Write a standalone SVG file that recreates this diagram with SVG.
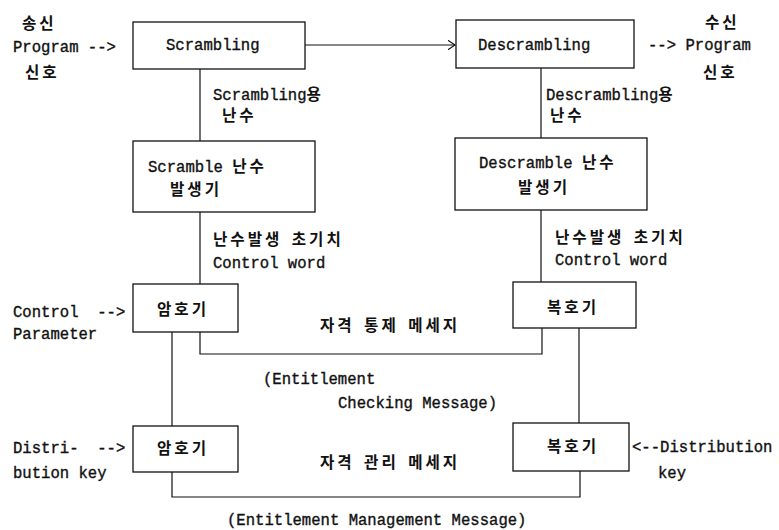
<svg xmlns="http://www.w3.org/2000/svg" width="779" height="530" viewBox="0 0 779 530">
<style>
text{font-family:"Liberation Mono","Noto Sans CJK KR",monospace;font-size:15.6px;fill:#111;stroke:#111;stroke-width:0.35;white-space:pre}
.k{letter-spacing:3px;font-weight:bold;stroke-width:0}
.box{fill:#fff;stroke:#111;stroke-width:1.3}
.ln{fill:none;stroke:#111;stroke-width:1.2}
</style>
<defs>
<marker id="ah" viewBox="0 0 8 10" refX="7.5" refY="5" markerWidth="8" markerHeight="10" markerUnits="userSpaceOnUse" orient="auto">
<path d="M0,0 L7.5,5 L0,10" fill="none" stroke="#111" stroke-width="1.2"/>
</marker>
</defs>
<g id="connectors">
<line class="ln" x1="305" y1="45" x2="455" y2="45" marker-end="url(#ah)"/>
<line class="ln" x1="200" y1="69" x2="200" y2="141"/>
<line class="ln" x1="541" y1="68" x2="541" y2="138"/>
<line class="ln" x1="200" y1="212" x2="200" y2="284"/>
<line class="ln" x1="541" y1="210" x2="541" y2="282"/>
<polyline class="ln" points="200,332 200,354 542,354 542,328"/>
<line class="ln" x1="172" y1="332" x2="172" y2="426"/>
<line class="ln" x1="579" y1="328" x2="579" y2="423"/>
<polyline class="ln" points="172,472 172,497 580,497 580,471"/>
</g>
<g id="scrambling">
<rect class="box" x="133" y="22" width="172" height="47"/>
<text x="166" y="50">Scrambling</text>
</g>
<g id="descrambling">
<rect class="box" x="456" y="20" width="178" height="48"/>
<text x="478" y="50">Descrambling</text>
</g>
<g id="scramble-gen">
<rect class="box" x="133" y="141" width="182" height="71"/>
<text x="148" y="172">Scramble <tspan class="k">난수</tspan></text>
<text x="170" y="195" class="k">발생기</text>
</g>
<g id="descramble-gen">
<rect class="box" x="455" y="138" width="192" height="72"/>
<text x="479" y="168">Descramble <tspan class="k">난수</tspan></text>
<text x="518" y="193" class="k">발생기</text>
</g>
<g id="encoder1">
<rect class="box" x="133" y="284" width="105" height="48"/>
<text x="157" y="315" class="k">암호기</text>
</g>
<g id="decoder1">
<rect class="box" x="513" y="282" width="123" height="46"/>
<text x="547" y="313" class="k">복호기</text>
</g>
<g id="encoder2">
<rect class="box" x="133" y="426" width="105" height="46"/>
<text x="157" y="454" class="k">암호기</text>
</g>
<g id="decoder2">
<rect class="box" x="513" y="423" width="116" height="48"/>
<text x="547" y="452" class="k">복호기</text>
</g>
<g id="labels">
<text x="22" y="29" class="k">송신</text>
<text x="13" y="52">Program --&gt;</text>
<text x="25" y="78" class="k">신호</text>
<text x="705" y="28" class="k">수신</text>
<text x="648" y="50">--&gt; Program</text>
<text x="703" y="78" class="k">신호</text>
<text x="213" y="100">Scrambling<tspan class="k">용</tspan></text>
<text x="222" y="121" class="k">난수</text>
<text x="546" y="100">Descrambling<tspan class="k">용</tspan></text>
<text x="550" y="121" class="k">난수</text>
<text x="213" y="245"><tspan class="k">난수발생</tspan> <tspan class="k">초기치</tspan></text>
<text x="213" y="268">Control word</text>
<text x="555" y="243"><tspan class="k">난수발생</tspan> <tspan class="k">초기치</tspan></text>
<text x="555" y="265">Control word</text>
<text x="13" y="317">Control  --&gt;</text>
<text x="13" y="339">Parameter</text>
<text x="320" y="331"><tspan class="k">자격</tspan> <tspan class="k">통제</tspan> <tspan class="k">메세지</tspan></text>
<text x="263" y="384">(Entitlement</text>
<text x="338" y="408">Checking Message)</text>
<text x="13" y="453">Distri-  --&gt;</text>
<text x="13" y="478">bution key</text>
<text x="320" y="468"><tspan class="k">자격</tspan> <tspan class="k">관리</tspan> <tspan class="k">메세지</tspan></text>
<text x="227" y="525">(Entitlement Management Message)</text>
<text x="632" y="452">&lt;--Distribution</text>
<text x="658" y="478">key</text>
</g>
</svg>
